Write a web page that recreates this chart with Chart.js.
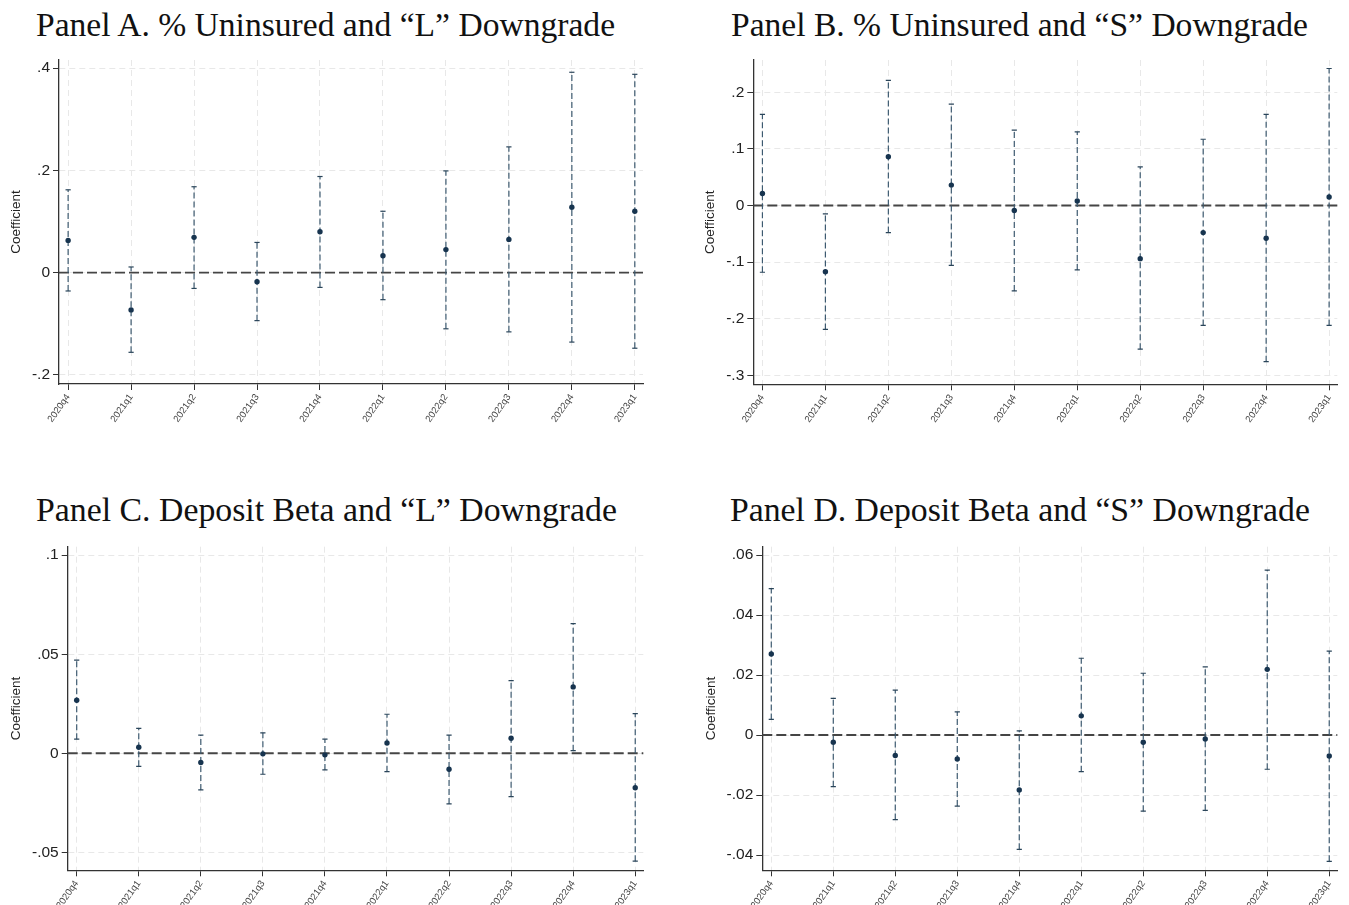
<!DOCTYPE html>
<html>
<head>
<meta charset="utf-8">
<script src="https://cdn.jsdelivr.net/npm/chart.js@4.4.0/dist/chart.umd.min.js"></script>
<style>
body { margin:0; background:#fff; width:1349px; height:905px; position:relative; overflow:hidden; }
.title { position:absolute; font-family:"Liberation Serif", serif; color:#111; white-space:nowrap; line-height:1; }
.box { position:absolute; }
</style>
</head>
<body>
<div class="title" id="tA" style="left:36px">Panel A. % Uninsured and “L” Downgrade</div>
<div class="title" id="tB" style="left:731px">Panel B. % Uninsured and “S” Downgrade</div>
<div class="title" id="tC" style="left:36px">Panel C. Deposit Beta and “L” Downgrade</div>
<div class="title" id="tD" style="left:730px">Panel D. Deposit Beta and “S” Downgrade</div>

<div class="box" style="left:0;top:55px;width:665px;height:380px"><canvas id="chartA"></canvas></div>
<div class="box" style="left:690px;top:55px;width:659px;height:380px"><canvas id="chartB"></canvas></div>
<div class="box" style="left:0;top:540px;width:665px;height:365px"><canvas id="chartC"></canvas></div>
<div class="box" style="left:690px;top:540px;width:659px;height:365px"><canvas id="chartD"></canvas></div>

<script>
const quarters = ['2020q4','2021q1','2021q2','2021q3','2021q4','2022q1','2022q2','2022q3','2022q4','2023q1'];

// Panel A: % uninsured, "L" downgrade
const coefA = [0.063, -0.073, 0.069, -0.018, 0.080, 0.033, 0.045, 0.065, 0.128, 0.120];
const loA   = [-0.036, -0.156, -0.031, -0.094, -0.029, -0.053, -0.110, -0.116, -0.136, -0.148];
const hiA   = [0.162, 0.011, 0.168, 0.059, 0.188, 0.120, 0.199, 0.246, 0.392, 0.388];
const yTicksA = [-0.2, 0, 0.2, 0.4];

// Panel B: % uninsured, "S" downgrade
const coefB = [0.021, -0.117, 0.086, 0.036, -0.009, 0.008, -0.094, -0.048, -0.058, 0.015];
const loB   = [-0.118, -0.219, -0.048, -0.106, -0.151, -0.114, -0.254, -0.212, -0.276, -0.212];
const hiB   = [0.161, -0.015, 0.221, 0.179, 0.133, 0.130, 0.068, 0.117, 0.161, 0.242];
const yTicksB = [-0.3, -0.2, -0.1, 0, 0.1, 0.2];

// Panel C: deposit beta, "L" downgrade
const coefC = [0.0268, 0.003, -0.0047, -0.0003, -0.0008, 0.0052, -0.0081, 0.0076, 0.0335, -0.0174];
const loC   = [0.0071, -0.0066, -0.0185, -0.0106, -0.0084, -0.0093, -0.0256, -0.0219, 0.0013, -0.0545];
const hiC   = [0.047, 0.0126, 0.0092, 0.0103, 0.0071, 0.0197, 0.0092, 0.0367, 0.0655, 0.020];
const yTicksC = [-0.05, 0, 0.05, 0.1];

// Panel D: deposit beta, "S" downgrade
const coefD = [0.027, -0.0024, -0.0068, -0.008, -0.0183, 0.0064, -0.0024, -0.0013, 0.0219, -0.007];
const loD   = [0.0052, -0.0172, -0.0282, -0.0237, -0.0381, -0.0122, -0.0254, -0.0251, -0.0114, -0.0421];
const hiD   = [0.0488, 0.0122, 0.015, 0.0077, 0.0014, 0.0256, 0.0206, 0.0227, 0.055, 0.028];
const yTicksD = [-0.04, -0.02, 0, 0.02, 0.04, 0.06];

// TITLES - fit width, put baseline in place
function fitTitle(id, width, baseline) {
    const el = document.getElementById(id);
    const ctx = document.createElement('canvas').getContext('2d');
    ctx.font = '30px "Liberation Serif"';
    const w = ctx.measureText(el.textContent).width;
    const size = 30 * width / w;
    el.style.fontSize = size.toFixed(2) + 'px';
    el.style.top = (baseline - 0.8375 * size).toFixed(1) + 'px';
}
fitTitle('tA', 581, 36);
fitTitle('tB', 577, 36);
fitTitle('tC', 581, 521);
fitTitle('tD', 580, 521);

// stata style: .2, -.05
function fmtTick(v) {
    if (v === 0) return '0';
    return String(+v.toFixed(4)).replace('0.', '.');
}

const zeroLine = {
    id: 'zeroLine',
    beforeDatasetsDraw(chart) {
        const y = chart.scales.y.getPixelForValue(0);
        const a = chart.chartArea;
        const ctx = chart.ctx;
        ctx.save();
        ctx.strokeStyle = '#454545';
        ctx.lineWidth = 1.9;
        ctx.setLineDash([10, 4]);
        ctx.beginPath();
        ctx.moveTo(a.left, y);
        ctx.lineTo(a.right, y);
        ctx.stroke();
        ctx.restore();
    }
};

function makePanel(id, coef, lo, hi, yTicks, yMin, yMax, lay) {
    const pts = coef.map((v, i) => ({x: i, y: v}));
    let bars = [];
    lo.forEach(function(v, i) {
        bars.push({x: i, y: v}, {x: i, y: hi[i]}, {x: i, y: null});
    });
    const gridOpts = {color: '#e8e8e8', lineWidth: 1, tickColor: '#333', tickLength: 6};
    const borderOpts = {color: '#333', width: 1.3, dash: [6, 4]};
    new Chart(document.getElementById(id), {
        type: 'scatter',
        data: {
            datasets: [{
                data: pts,
                pointRadius: 2.7,
                pointHoverRadius: 2.7,
                pointBackgroundColor: '#17344f',
                pointBorderWidth: 0
            }, {
                data: bars,
                showLine: true,
                spanGaps: false,
                borderColor: '#3d5a70',
                borderWidth: 1.2,
                borderDash: [6, 3],
                pointStyle: 'line',
                pointRadius: 2.6,
                pointHoverRadius: 2.6,
                pointBorderColor: '#2a455a',
                pointBorderWidth: 1.2
            }]
        },
        options: {
            animation: false,
            responsive: true,
            maintainAspectRatio: false,
            layout: {padding: {top: lay.top, right: lay.right, left: 0, bottom: 0}},
            plugins: {legend: {display: false}, tooltip: {enabled: false}},
            scales: {
                x: {
                    type: 'linear',
                    min: -0.145,
                    max: 9.13,
                    afterBuildTicks: s => { s.ticks = quarters.map((q, i) => ({value: i})); },
                    afterFit: s => { s.height = lay.xh; s.paddingLeft = 0; s.paddingRight = 0; },
                    ticks: {
                        callback: v => quarters[v],
                        minRotation: 55,
                        maxRotation: 55,
                        font: {size: 9.5, family: 'Liberation Sans'},
                        color: '#444',
                        padding: 2
                    },
                    grid: gridOpts,
                    border: borderOpts
                },
                y: {
                    min: yMin,
                    max: yMax,
                    afterBuildTicks: s => { s.ticks = yTicks.map(v => ({value: v})); },
                    afterFit: s => { s.width = lay.yw; s.paddingTop = 0; s.paddingBottom = 0; },
                    ticks: {
                        callback: fmtTick,
                        font: {size: 15.5, family: 'Liberation Sans'},
                        color: '#222',
                        padding: 3
                    },
                    grid: gridOpts,
                    border: borderOpts,
                    title: {
                        display: true,
                        text: 'Coefficient',
                        font: {size: 13.5, family: 'Liberation Sans'},
                        color: '#222',
                        padding: {top: lay.tx - 8, bottom: 0}
                    }
                }
            }
        },
        plugins: [zeroLine]
    });
}

makePanel('chartA', coefA, loA, hiA, yTicksA, -0.218, 0.416, {yw: 59, top: 5, right: 22, xh: 51, tx: 16});
makePanel('chartB', coefB, loB, hiB, yTicksB, -0.316, 0.257, {yw: 63.3, top: 5, right: 11.7, xh: 50.7, tx: 20});
makePanel('chartC', coefC, loC, hiC, yTicksC, -0.0591, 0.1043, {yw: 67.7, top: 6.7, right: 21.7, xh: 34.7, tx: 16});
makePanel('chartD', coefD, loD, hiD, yTicksD, -0.0451, 0.0628, {yw: 72.3, top: 6.7, right: 11.7, xh: 34.7, tx: 21});
</script>
</body>
</html>
